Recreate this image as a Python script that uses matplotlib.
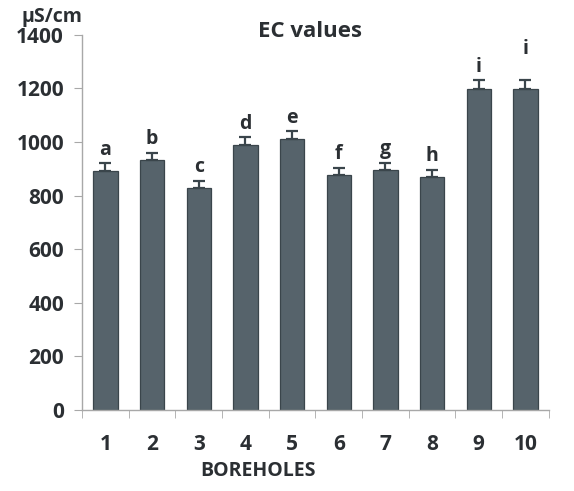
import numpy as np
import matplotlib

matplotlib.use("Agg")
import matplotlib.pyplot as plt

boreholes = ["1", "2", "3", "4", "5", "6", "7", "8", "9", "10"]
ec_values = [892, 933, 829, 989, 1012, 877, 896, 870, 1198, 1198]
ec_errors = [28, 27, 27, 28, 28, 27, 27, 26, 32, 32]
group_letters = ["a", "b", "c", "d", "e", "f", "g", "h", "i", "i"]
letter_gap = [14, 14, 14, 14, 14, 14, 14, 14, 14, 80]

plt.rcParams["font.family"] = ["Open Sans", "DejaVu Sans"]
plt.rcParams["font.weight"] = "bold"

text_color = "#2b2f33"
axis_color = "#a8a8a8"

fig = plt.figure(figsize=(5.74, 4.91), dpi=100)
ax = fig.add_axes([0.143, 0.165, 0.813, 0.764])

x = np.arange(len(boreholes))
ax.bar(x, ec_values, width=0.52, color="#56636b", edgecolor="#3a454b", linewidth=0.9,
       yerr=[np.zeros(len(ec_errors)), ec_errors], capsize=4,
       error_kw={"ecolor": "#3a454b", "elinewidth": 1.6, "capthick": 1.6}, zorder=2)

for xi, val, err, gap, letter in zip(x, ec_values, ec_errors, letter_gap, group_letters):
    ax.text(xi, val + err + gap, letter, ha="center", va="bottom", fontsize=14,
            fontweight="bold", color=text_color)

ax.set_xlim(-0.5, len(boreholes) - 0.5)
ax.set_ylim(0, 1400)
ax.set_yticks(range(0, 1401, 200))
ax.set_xticks(x)
ax.set_xticklabels(boreholes)
ax.set_xticks(np.arange(-0.5, len(boreholes)), minor=True)
ax.tick_params(axis="x", which="major", length=0, pad=17, labelsize=15, labelcolor=text_color)
ax.tick_params(axis="x", which="minor", length=6, color=axis_color, direction="out")
ax.tick_params(axis="y", length=6, color=axis_color, labelsize=15, labelcolor=text_color, pad=7)
for lbl in ax.get_xticklabels() + ax.get_yticklabels():
    lbl.set_fontweight("bold")

for side in ["top", "right"]:
    ax.spines[side].set_visible(False)
for side in ["left", "bottom"]:
    ax.spines[side].set_color(axis_color)
    ax.spines[side].set_linewidth(1.0)

fig.text(0.45, 0.04, "BOREHOLES", ha="center", va="center", fontsize=14,
         fontweight="bold", color=text_color)
fig.text(0.54, 0.935, "EC values", ha="center", va="center", fontsize=16,
         fontweight="bold", color=text_color)
fig.text(0.037, 0.966, "µS/cm", ha="left", va="center", fontsize=14,
         fontweight="bold", color=text_color)

fig.savefig("out.png", dpi=100)
